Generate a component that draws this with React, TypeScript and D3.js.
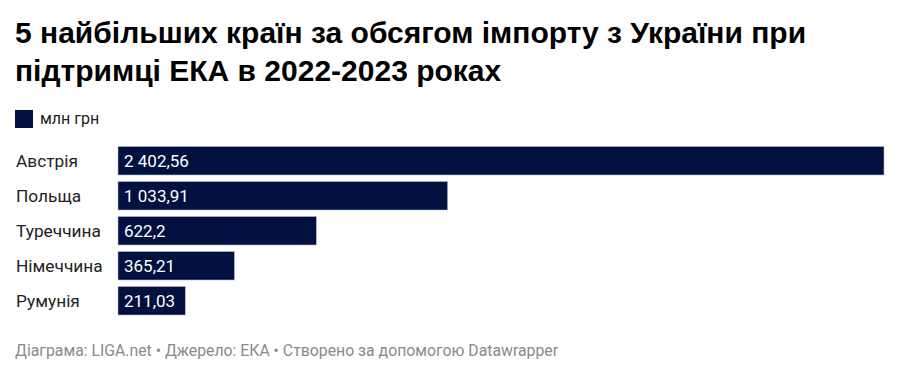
import React from "react";
import * as d3 from "d3";

const countries = ["Австрія", "Польща", "Туреччина", "Німеччина", "Румунія"];
const values = [2402.56, 1033.91, 622.2, 365.21, 211.03];
const valueLabels = ["2 402,56", "1 033,91", "622,2", "365,21", "211,03"];
const titleLines = [
  "5 найбільших країн за обсягом імпорту з України при",
  "підтримці ЕКА в 2022-2023 роках",
];
const legendLabel = "млн грн";
const footer = "Діаграма: LIGA.net • Джерело: ЕКА • Створено за допомогою Datawrapper";

export default function App() {
  const W = 900, H = 379;
  const x = d3.scaleLinear().domain([0, d3.max(values)!]).range([118, 884]);
  const y = d3.scaleBand().domain(countries).range([146.5, 315]).paddingInner(0.186).paddingOuter(0.0);
  const bh = y.bandwidth();
  return (
    <svg width={W} height={H} style={{ position: "absolute", left: 0, top: 0 }}>
      <rect width={W} height={H} fill="#fff" />
      {titleLines.map((t, i) => (
        <text key={i} x={15} y={43 + i * 38} fontFamily="Liberation Sans, Arial, sans-serif" fontWeight="bold" fontSize={30} fill="#000">{t}</text>
      ))}
      <rect x={15} y={110} width={18} height={18} fill="#001140" />
      <text x={40} y={124} fontFamily="Roboto, sans-serif" fontSize={16} fill="#222">{legendLabel}</text>
      {countries.map((c, i) => (
        <g key={c}>
          <text x={16} y={y(c)! + bh / 2} dy="0.35em" fontFamily="Roboto, sans-serif" fontSize={17.3} fill="#222">{c}</text>
          <rect x={x(0)} y={y(c)!} width={x(values[i]) - x(0)} height={bh} fill="#001140" stroke="#b5b9c9" strokeWidth={0.6} />
          <text x={x(0) + 6} y={y(c)! + bh / 2} dy="0.35em" fontFamily="Roboto, sans-serif" fontSize={17} fill="#fff">{valueLabels[i]}</text>
        </g>
      ))}
      <text x={15} y={356} fontFamily="Roboto, sans-serif" fontSize={15.8} fill="#8a8a8a">{footer}</text>
    </svg>
  );
}
